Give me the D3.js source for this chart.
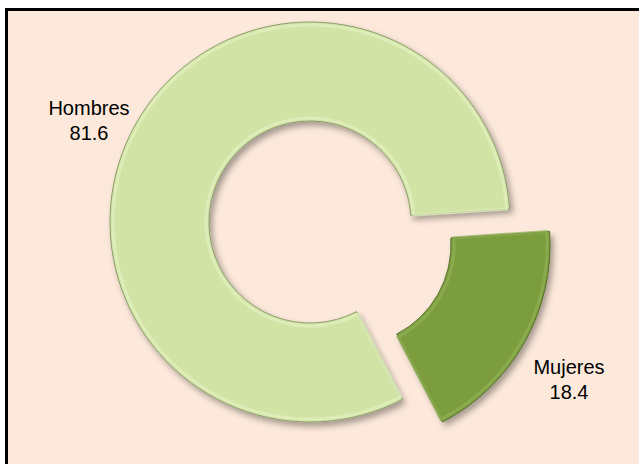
<!DOCTYPE html>
<html>
  <head>
    <meta charset="utf-8">
    <title></title>
    <script src="https://d3js.org/d3.v7.min.js"></script>
  </head>
  <style>
    body { margin: 0; background: #fff; }
  </style>
  <body>
  <script>

  var categories = ["Hombres", "Mujeres"];
  var values = [81.6, 18.4];
  var labels = ["81.6", "18.4"];
  var colors = ["#d2e4a5", "#7b9d3e"];

  var width = 639, height = 464;
  var cx = 310, cy = 222;
  var rOuter = 200, rInner = 101;

  var svg = d3.select("body").append("svg")
      .attr("width", width)
      .attr("height", height);

  var defs = svg.append("defs");
  var f = defs.append("filter").attr("id", "shadow")
      .attr("x", "-20%").attr("y", "-20%").attr("width", "140%").attr("height", "140%");
  f.append("feGaussianBlur").attr("in", "SourceAlpha").attr("stdDeviation", 3).attr("result", "b");
  f.append("feOffset").attr("in", "b").attr("dx", 3).attr("dy", 4).attr("result", "o");
  f.append("feComponentTransfer").attr("in", "o").attr("result", "s")
    .append("feFuncA").attr("type", "linear").attr("slope", 0.35);
  var m = f.append("feMerge");
  m.append("feMergeNode").attr("in", "s");
  m.append("feMergeNode").attr("in", "SourceGraphic");

  // chart area frame
  svg.append("rect")
     .attr("x", 6.5).attr("y", 9.5)
     .attr("width", 700).attr("height", 600)
     .attr("fill", "#fde9db")
     .attr("stroke", "#000")
     .attr("stroke-width", 3);

  var start = 152.5 * Math.PI / 180;
  var pie = d3.pie().sort(null)
      .startAngle(start)
      .endAngle(start + 2 * Math.PI);

  var arc = d3.arc().innerRadius(rInner).outerRadius(rOuter);
  var inner = d3.arc().innerRadius(rInner + 3).outerRadius(rOuter - 3);

  var g = svg.append("g").attr("transform", "translate(" + cx + "," + cy + ")");

  var slices = g.selectAll("g.slice")
    .data(pie(values))
    .enter()
    .append("g")
    .attr("class", "slice")
    .attr("transform", function(d, i) {
      if (i == 0) return null;
      var a = (d.startAngle + d.endAngle) / 2;
      var off = 46;
      return "translate(" + (Math.sin(a) * off) + "," + (-Math.cos(a) * off) + ")";
    });

  slices.append("path")
    .attr("d", arc)
    .attr("fill", function(d, i) { return colors[i]; })
    .attr("stroke", function(d, i) { return i == 0 ? "#8c9c6c" : "#56702a"; })
    .attr("stroke-width", 1)
    .attr("filter", "url(#shadow)");

  // soft bevel highlight
  slices.append("path")
    .attr("d", inner)
    .attr("fill", "none")
    .attr("stroke", function(d, i) { return i == 0 ? "#e2efc0" : "#8fb054"; })
    .attr("stroke-width", 3)
    .attr("stroke-opacity", 0.7);

  // labels
  var labelPos = [[89, 115], [569, 374]];
  var lab = svg.selectAll("text.lbl")
    .data(categories)
    .enter()
    .append("text")
    .attr("class", "lbl")
    .attr("x", function(d, i) { return labelPos[i][0]; })
    .attr("y", function(d, i) { return labelPos[i][1]; })
    .attr("text-anchor", "middle")
    .style("font-family", "Liberation Sans, Arial, sans-serif")
    .style("font-size", "20px")
    .attr("fill", "#000");

  lab.append("tspan").text(function(d) { return d; });
  lab.append("tspan")
    .attr("x", function(d, i) { return labelPos[i][0]; })
    .attr("dy", 25)
    .text(function(d, i) { return labels[i]; });

  </script>
  </body>
</html>
